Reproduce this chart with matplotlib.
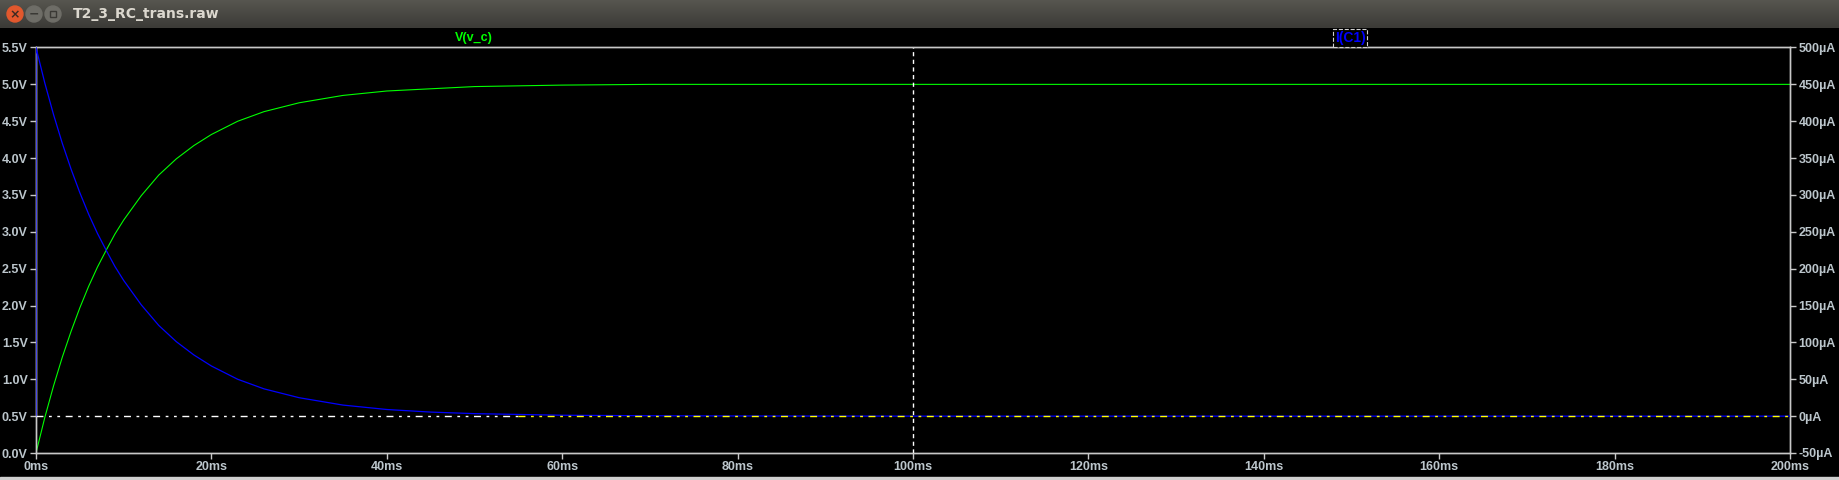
# LTspice-style transient plot of the RC charge (T2_3_RC_trans.raw)

import numpy as np
import matplotlib.pyplot as plt
from matplotlib.patches import Circle, Rectangle

t_v = [0, 1, 2, 3, 4, 5, 6, 7, 8, 9, 10, 12, 14, 16, 18, 20, 23, 26, 30, 35,
       40, 45, 50, 60, 70, 80, 100, 150, 200]  # ms
v_c = [0, 0.48, 0.91, 1.30, 1.65, 1.97, 2.26, 2.52, 2.75, 2.97, 3.16, 3.49,
       3.77, 3.99, 4.17, 4.32, 4.50, 4.63, 4.75, 4.85, 4.91, 4.94, 4.97, 4.99,
       5.0, 5.0, 5.0, 5.0, 5.0]  # V

t_i = [0, 0, 1, 2, 3, 4, 5, 6, 7, 8, 9, 10, 12, 14, 16, 18, 20, 23, 26, 30,
       35, 40, 45, 50, 60, 70, 80, 100, 150, 200]  # ms
i_c1 = [0, 500, 452, 409, 370, 335, 303, 274, 248, 225, 203, 184, 151, 123,
        101, 83, 68, 50, 37, 25, 15, 9, 5.5, 3.4, 1.2, 0.5, 0.2, 0, 0, 0]  # uA

v_ticks = [0.0, 0.5, 1.0, 1.5, 2.0, 2.5, 3.0, 3.5, 4.0, 4.5, 5.0, 5.5]
i_ticks = [-50, 0, 50, 100, 150, 200, 250, 300, 350, 400, 450, 500]
t_ticks = [0, 20, 40, 60, 80, 100, 120, 140, 160, 180, 200]

W, H = 1839, 480
GRID = '#c8c8c8'
LABEL = '#bcc6cc'
tick_font = dict(family='Liberation Sans', weight='bold', size=9)

fig = plt.figure(figsize=(W / 100, H / 100), dpi=100, facecolor='black')

# window title bar
bar = fig.add_axes([0, 1 - 28 / H, 1, 28 / H])
grad = np.linspace(0, 1, 28)[:, None]
bar.imshow(grad, cmap=plt.matplotlib.colors.LinearSegmentedColormap.from_list(
    'tb', ['#56554f', '#3c3b37']), aspect='auto', extent=[0, W, 28, 0])
bar.set_xlim(0, W)
bar.set_ylim(28, 0)
bar.axis('off')
bar.add_patch(Circle((15, 14), 8, color='#e2582d'))
bar.add_patch(Circle((34, 14), 8, color='#6e6d67'))
bar.add_patch(Circle((53, 14), 8, color='#6e6d67'))
bar.text(15, 14.5, '×', color='#3c2a22', ha='center', va='center', fontsize=9, weight='bold')
bar.text(34, 14.5, '−', color='#3a3935', ha='center', va='center', fontsize=9, weight='bold')
bar.add_patch(Rectangle((50, 10.5), 6.5, 6.5, fill=False, ec='#3a3935', lw=1))
bar.text(73, 14, 'T2_3_RC_trans.raw', color='#dcd8cf', ha='left', va='center',
         family='DejaVu Sans', weight='bold', fontsize=10)

# thin light edge at the bottom of the window
fig.patches.append(Rectangle((0, 0), 1, 3 / H, transform=fig.transFigure,
                             color='#cfcfcf', zorder=0))

left, right = 36, 1790
top, bottom = 47.5, 453
ax = fig.add_axes([left / W, (H - bottom) / H, (right - left) / W, (bottom - top) / H])
ax.set_facecolor('black')
ax2 = ax.twinx()

ax.plot(t_v, v_c, color='#00ff00', lw=0.8)
ax2.plot(t_i, i_c1, color='#0000ff', lw=0.9, zorder=3)

# 0uA grid line (XOR-drawn: white over black, yellow over the blue trace)
ax2.plot([0, 55], [0, 0], color='white', lw=1.0, ls=(0, (5, 4, 2, 4, 2, 4)), zorder=5)
ax2.plot([55, 200], [0, 0], color='#ffff00', lw=1.0, ls=(0, (5, 4, 2, 4, 2, 4)), zorder=5)
ax.axvline(100, color='white', lw=1.0, ls=(0, (3, 2.5)), zorder=5)

ax.set_xlim(0, 200)
ax.set_ylim(0, 5.5)
ax2.set_ylim(-50, 500)

ax.set_xticks(t_ticks)
ax.set_xticklabels([f'{t}ms' for t in t_ticks], **tick_font)
ax.set_yticks(v_ticks)
ax.set_yticklabels([f'{v:.1f}V' for v in v_ticks], **tick_font)
ax2.set_yticks(i_ticks)
ax2.set_yticklabels([f'{i}µA' for i in i_ticks], **tick_font)

for a in (ax, ax2):
    for s in a.spines.values():
        s.set_color(GRID)
        s.set_linewidth(1.0)
    a.tick_params(colors=GRID, labelcolor=LABEL, length=4.5, width=1.0, pad=1.5)

# trace names above the plot
fig.text(474 / W, 1 - 38 / H, 'V(v_c)', color='#00ff00', ha='center', va='center',
         family='Liberation Sans', weight='bold', fontsize=9)
fig.text(1350 / W, 1 - 38 / H, 'I(C1)', color='#0000ff', ha='center', va='center',
         family='Liberation Sans', weight='bold', fontsize=10,
         bbox=dict(boxstyle='square,pad=0.12', fc='black', ec='#d0d0d0', ls='--', lw=0.8))

fig.savefig('out.png', dpi=100, facecolor='black')
